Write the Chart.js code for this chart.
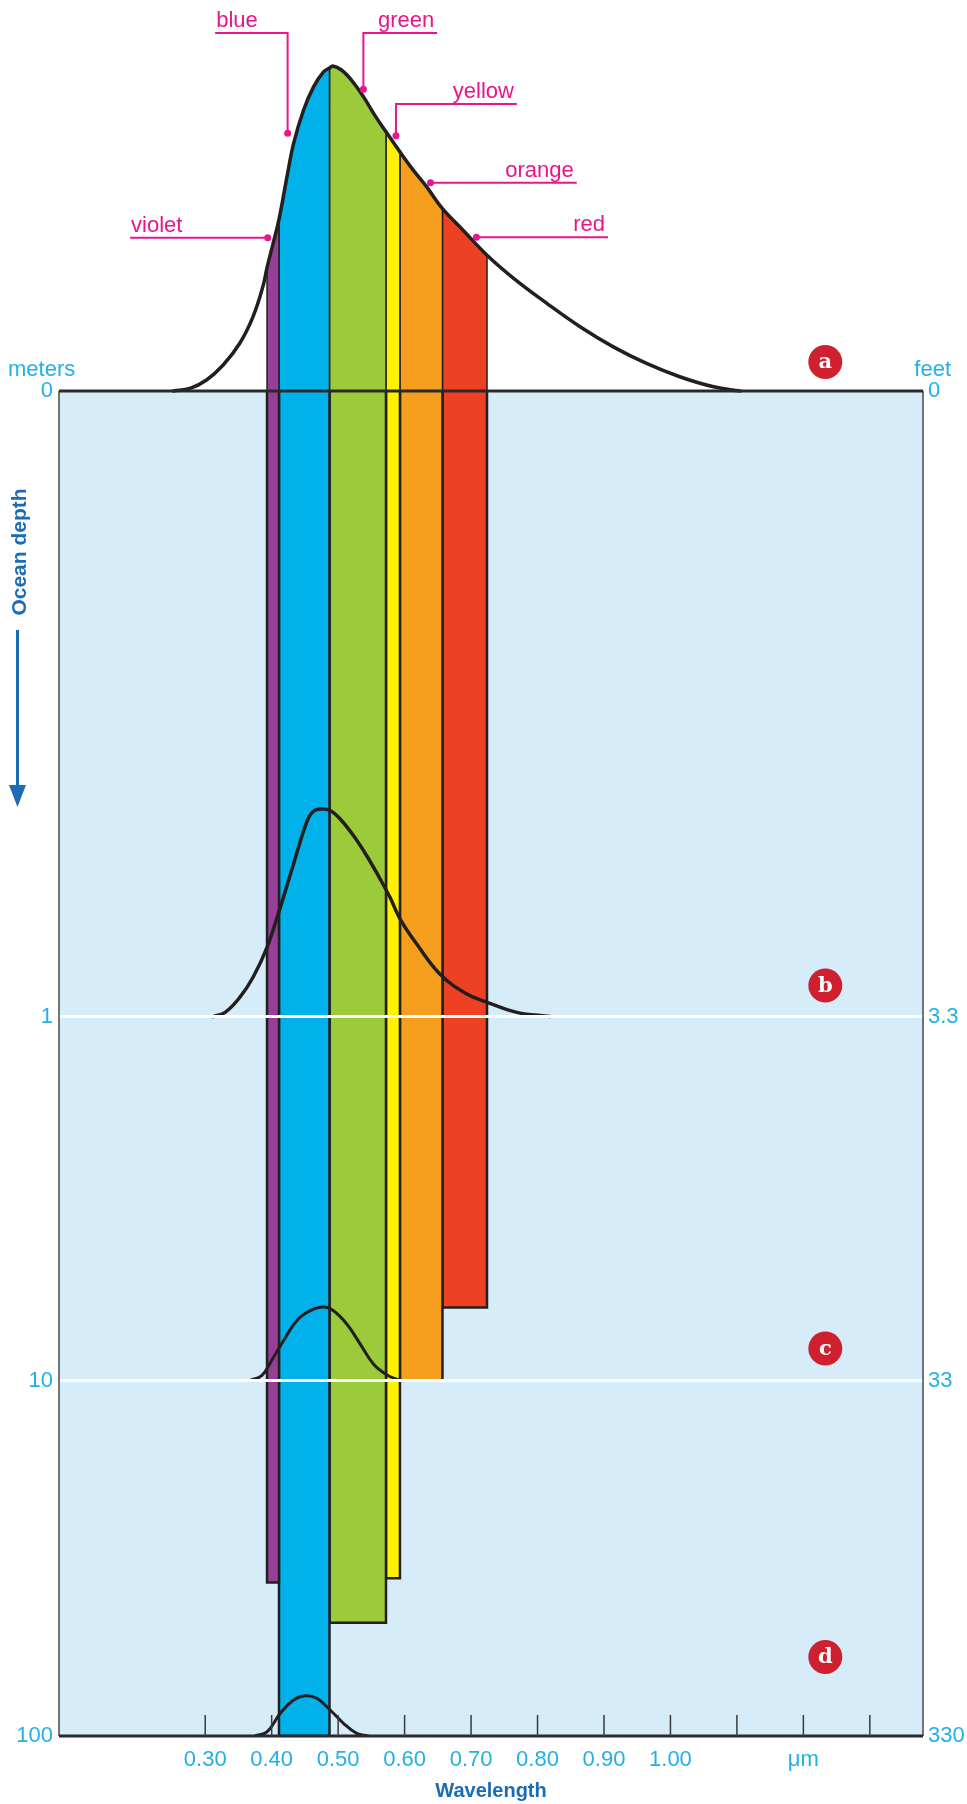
<!DOCTYPE html>
<html lang="en">

<head>
    <meta charset="UTF-8">
    <title>Light in the ocean</title>
    <style>
        html, body { margin: 0; padding: 0; background: #fff; }
        canvas { display: block; }
    </style>
</head>

<body>
    <canvas id="grafico" width="967" height="1804"></canvas>

    <script src="https://cdn.jsdelivr.net/npm/chart.js@4"></script>
    <script>
        // colour bands: edges in µm, depth (m) where each colour runs out
        const bandNames = ['violet', 'blue', 'green', 'yellow', 'orange', 'red']
        const bandEdges = [0.393, 0.411, 0.487, 0.572, 0.593, 0.657, 0.724]
        const bandDepths = [37, 100, 48, 36, 10, 6.3]

        // sunlight spectrum at the surface (a), peak = 100
        const waveA = [0.252, 0.277, 0.302, 0.327, 0.352, 0.372, 0.387, 0.393, 0.402, 0.411, 0.423, 0.433, 0.448, 0.463, 0.478, 0.487, 0.492, 0.505, 0.520, 0.538, 0.555, 0.572, 0.593, 0.613, 0.633, 0.657, 0.688, 0.724, 0.764, 0.814, 0.864, 0.914, 0.964, 1.014, 1.065, 1.105]
        const lightA = [0, 0.8, 3.4, 8.0, 14.7, 22.9, 32.3, 38.0, 45.3, 52.8, 65.9, 76.2, 86.5, 93.6, 98.2, 99.4, 100, 98.8, 95.7, 90.6, 84.9, 79.8, 73.6, 68.0, 62.9, 56.1, 49.5, 41.8, 34.7, 27.0, 19.8, 13.6, 8.5, 4.4, 1.3, 0]

        // spectrum at 1 m (b)
        const waveB = [0.312, 0.330, 0.352, 0.372, 0.393, 0.413, 0.433, 0.453, 0.463, 0.475, 0.488, 0.503, 0.523, 0.543, 0.563, 0.578, 0.593, 0.618, 0.653, 0.693, 0.724, 0.769, 0.819]
        const lightB = [0, 1.3, 5.9, 12.1, 21.3, 33.6, 47.0, 60.0, 63.2, 63.9, 63.4, 60.8, 55.7, 49.5, 42.4, 36.7, 30.1, 22.4, 13.1, 7.0, 4.4, 1.3, 0]

        // spectrum at 10 m (c)
        const waveC = [0.367, 0.385, 0.400, 0.418, 0.438, 0.458, 0.478, 0.493, 0.513, 0.533, 0.553, 0.573, 0.593]
        const lightC = [0, 1.5, 6.2, 12.3, 18.5, 21.5, 22.6, 21.5, 17.4, 11.3, 5.1, 1.8, 0]

        // spectrum at 100 m (d)
        const waveD = [0.375, 0.393, 0.413, 0.433, 0.450, 0.468, 0.488, 0.508, 0.528, 0.545]
        const lightD = [0, 1.3, 7.0, 11.1, 12.4, 11.6, 8.0, 3.9, 0.8, 0]

        // axes
        const depthTicks = [0, 1, 10, 100]
        const meterLabels = ['0', '1', '10', '100']
        const feetLabels = ['0', '3.3', '33', '330']
        const waveTicks = [0.3, 0.4, 0.5, 0.6, 0.7, 0.8, 0.9, 1.0, 1.1, 1.2, 1.3]
        const waveLabels = ['0.30', '0.40', '0.50', '0.60', '0.70', '0.80', '0.90', '1.00', '', 'μm', '']

        const curveLetters = ['a', 'b', 'c', 'd']
        const curveDepths = [0, 1, 10, 100]

        // ---- styles / geometry ----
        const bandColors = ['#953f97', '#00b1ea', '#9bca3b', '#fff100', '#f69f1f', '#ee4023']
        const CYAN = '#22b0e6'
        const DARK_BLUE = '#1a6db4'
        const MAGENTA = '#e9158b'
        const INK = '#231f20'
        const SANS = '"Liberation Sans", Arial, sans-serif'

        // the depth axis is linear from 0 to 1 m, then logarithmic; positions are
        // fractions of the water column, SKY is the part of the plot above the surface
        const KNOT_POS = [0, 0.4651, 0.7357, 1]
        const SKY = 0.261
        const UNIT = 0.2416 / 100   // height of one intensity unit, in water-column heights

        function depthPos(d) {
            if (d <= 1) return d * KNOT_POS[1]
            const l = Math.log10(d)
            if (l <= 1) return KNOT_POS[1] + l * (KNOT_POS[2] - KNOT_POS[1])
            return KNOT_POS[2] + (l - 1) * (KNOT_POS[3] - KNOT_POS[2])
        }

        function posDepth(p) {
            if (p <= KNOT_POS[1]) return p / KNOT_POS[1]
            if (p <= KNOT_POS[2]) return Math.pow(10, (p - KNOT_POS[1]) / (KNOT_POS[2] - KNOT_POS[1]))
            return Math.pow(10, 1 + (p - KNOT_POS[2]) / (KNOT_POS[3] - KNOT_POS[2]))
        }

        class DepthScale extends Chart.LinearScale {
            static id = 'depth'
            static defaults = {}

            determineDataLimits() {
                this.min = -SKY
                this.max = 1
            }

            buildTicks() {
                return depthTicks.map(v => ({ value: v }))
            }

            getPixelForValue(value) {
                return super.getPixelForValue(depthPos(value))
            }

            getValueForPixel(pixel) {
                return posDepth(super.getValueForPixel(pixel))
            }
        }
        Chart.register(DepthScale)

        // hidden intensity axis whose zero sits on a given depth
        function lightAxis(depth) {
            const p0 = depthPos(depth)
            return { type: 'linear', position: 'left', display: false, min: -(1 - p0) / UNIT, max: (p0 + SKY) / UNIT }
        }

        function pairs(xs, ys) {
            return xs.map((x, i) => ({ x: x, y: ys[i] }))
        }

        function skyBand(i) {
            const lo = bandEdges[i], hi = bandEdges[i + 1]
            const pts = [{ x: lo, y: 0 }]
            waveA.forEach((w, k) => {
                if (w >= lo - 1e-6 && w <= hi + 1e-6) pts.push({ x: w, y: lightA[k] })
            })
            pts.push({ x: hi, y: 0 })
            return pts
        }

        function waterBand(i) {
            const lo = bandEdges[i], hi = bandEdges[i + 1], d = bandDepths[i]
            return [{ x: lo, y: 0 }, { x: lo, y: d }, { x: hi, y: d }, { x: hi, y: 0 }]
        }

        const datasets = []
        bandNames.forEach((name, i) => {
            datasets.push({
                label: name + ' (water)', data: waterBand(i), yAxisID: 'depth',
                backgroundColor: bandColors[i], borderColor: INK, borderWidth: 2.5,
                fill: 'origin', pointRadius: 0, tension: 0, order: 3
            })
            datasets.push({
                label: name + ' (air)', data: skyBand(i), yAxisID: 'ya',
                backgroundColor: bandColors[i], borderColor: INK, borderWidth: 1.5,
                fill: 'origin', pointRadius: 0, tension: 0, order: 2
            })
        })

        const curves = [[waveA, lightA, 'ya', 3.5], [waveB, lightB, 'yb', 3.5], [waveC, lightC, 'yc', 3], [waveD, lightD, 'yd', 3]]
        curves.forEach(([w, v, axis, width], i) => {
            datasets.push({
                label: curveLetters[i], data: pairs(w, v), yAxisID: axis,
                borderColor: INK, borderWidth: width, borderCapStyle: 'round', borderJoinStyle: 'round',
                fill: false, pointRadius: 0, tension: 0.4, order: 0
            })
        })

        // magenta colour names with leader lines, in (µm, surface intensity) units
        const callouts = [
            { text: 'violet', align: 'left', path: [[0.394, 47.2], [0.187, 47.2]] },
            { text: 'blue', align: 'left', path: [[0.424, 79.3], [0.424, 110.2], [0.315, 110.2]] },
            { text: 'green', align: 'right', path: [[0.538, 92.9], [0.538, 110.2], [0.649, 110.2]] },
            { text: 'yellow', align: 'right', path: [[0.587, 78.6], [0.587, 88.3], [0.769, 88.3]] },
            { text: 'orange', align: 'right', path: [[0.639, 64.1], [0.859, 64.1]] },
            { text: 'red', align: 'right', path: [[0.708, 47.3], [0.906, 47.3]] }
        ]
        const badgeWave = 1.233
        const badgeLift = [29, 31, 32, 79]

        const moldura = {
            id: 'moldura',
            beforeDraw(chart) {
                const { ctx, chartArea: a, scales: { depth } } = chart
                const top = depth.getPixelForValue(0), bottom = depth.getPixelForValue(100)
                ctx.save()
                ctx.fillStyle = '#d6ecf9'
                ctx.fillRect(a.left, top, a.right - a.left, bottom - top)
                ctx.restore()
            },
            afterDraw(chart) {
                const { ctx, chartArea: a, scales: { x, depth } } = chart
                const top = depth.getPixelForValue(0), bottom = depth.getPixelForValue(100)
                ctx.save()
                ctx.strokeStyle = '#4a4a4a'
                ctx.lineWidth = 1.5
                ctx.beginPath()
                ctx.moveTo(a.left, top); ctx.lineTo(a.left, bottom)
                ctx.moveTo(a.right, top); ctx.lineTo(a.right, bottom)
                ctx.stroke()
                ctx.strokeStyle = '#2a2a2a'
                ctx.lineWidth = 3
                ctx.beginPath()
                ctx.moveTo(a.left, top); ctx.lineTo(a.right, top)
                ctx.moveTo(a.left, bottom); ctx.lineTo(a.right, bottom)
                ctx.stroke()
                // tick marks point into the plot
                ctx.lineWidth = 1.5
                ctx.strokeStyle = '#3a3a3a'
                x.ticks.forEach(t => {
                    const px = x.getPixelForValue(t.value)
                    ctx.beginPath(); ctx.moveTo(px, bottom); ctx.lineTo(px, bottom - 21); ctx.stroke()
                })
                ctx.restore()
            }
        }

        const notas = {
            id: 'notas',
            afterDraw(chart) {
                const { ctx, chartArea: a, scales: { x, ya, depth } } = chart
                ctx.save()

                ctx.strokeStyle = MAGENTA
                ctx.fillStyle = MAGENTA
                ctx.lineWidth = 2
                ctx.font = '22px ' + SANS
                ctx.textBaseline = 'alphabetic'
                callouts.forEach(c => {
                    const pts = c.path.map(([w, v]) => [x.getPixelForValue(w), ya.getPixelForValue(v)])
                    ctx.beginPath()
                    pts.forEach(([px, py], k) => k ? ctx.lineTo(px, py) : ctx.moveTo(px, py))
                    ctx.stroke()
                    ctx.beginPath()
                    ctx.arc(pts[0][0], pts[0][1], 3.5, 0, Math.PI * 2)
                    ctx.fill()
                    const [ex, ey] = pts[pts.length - 1]
                    ctx.textAlign = c.align
                    ctx.fillText(c.text, c.align === 'left' ? ex + 1 : ex - 3, ey - 6)
                })

                // a b c d markers
                curveLetters.forEach((letter, k) => {
                    const cx = x.getPixelForValue(badgeWave)
                    const cy = depth.getPixelForValue(curveDepths[k]) - badgeLift[k]
                    ctx.fillStyle = '#cf202f'
                    ctx.beginPath()
                    ctx.arc(cx, cy, 17, 0, Math.PI * 2)
                    ctx.fill()
                    ctx.fillStyle = '#fff'
                    ctx.font = 'bold 21px "DejaVu Serif", serif'
                    ctx.textAlign = 'center'
                    ctx.textBaseline = 'middle'
                    ctx.fillText(letter, cx, cy + 1)
                })

                // unit captions above the depth axes
                ctx.fillStyle = CYAN
                ctx.font = '22px ' + SANS
                ctx.textBaseline = 'alphabetic'
                ctx.textAlign = 'left'
                ctx.fillText('meters', 8, 376)
                ctx.textAlign = 'right'
                ctx.fillText('feet', a.right + 28, 376)

                // "Ocean depth" with its arrow
                ctx.fillStyle = DARK_BLUE
                ctx.save()
                ctx.translate(25.5, 552)
                ctx.rotate(-Math.PI / 2)
                ctx.font = 'bold 21px ' + SANS
                ctx.textAlign = 'center'
                ctx.fillText('Ocean depth', 0, 0)
                ctx.restore()
                ctx.strokeStyle = DARK_BLUE
                ctx.lineWidth = 3
                ctx.beginPath(); ctx.moveTo(17.5, 630); ctx.lineTo(17.5, 788); ctx.stroke()
                ctx.beginPath()
                ctx.moveTo(9, 785); ctx.lineTo(26, 785); ctx.lineTo(17.5, 807); ctx.closePath()
                ctx.fill()

                ctx.restore()
            }
        }

        const grafico = new Chart(document.getElementById('grafico'), {
            type: 'line',
            data: { datasets: datasets },
            options: {
                responsive: false,
                animation: false,
                devicePixelRatio: 1,
                events: [],
                layout: { padding: { top: 40, left: 0, right: 0, bottom: 0 } },
                plugins: { legend: { display: false }, tooltip: { enabled: false } },
                scales: {
                    x: {
                        type: 'linear', position: 'bottom', min: 0.08, max: 1.38,
                        afterBuildTicks: s => { s.ticks = waveTicks.map(v => ({ value: v })) },
                        afterFit: s => { s.height = 68 },
                        grid: { display: false, drawTicks: false },
                        border: { display: false },
                        ticks: {
                            callback: (v, i) => waveLabels[i], autoSkip: false, maxRotation: 0,
                            color: CYAN, padding: 11, font: { family: SANS, size: 22 }
                        },
                        title: {
                            display: true, text: 'Wavelength', color: DARK_BLUE,
                            font: { family: SANS, size: 20, weight: 'bold' }, padding: { top: 0, bottom: 1 }
                        }
                    },
                    depth: {
                        type: 'depth', position: 'left', reverse: true,
                        afterFit: s => { s.width = 59 },
                        border: { display: false },
                        grid: {
                            z: 1, lineWidth: 3, drawTicks: false,
                            color: c => (c.tick && (c.tick.value === 1 || c.tick.value === 10)) ? '#ffffff' : 'rgba(0,0,0,0)'
                        },
                        ticks: { callback: (v, i) => meterLabels[i], color: CYAN, padding: 6, font: { family: SANS, size: 22 } }
                    },
                    feet: {
                        type: 'depth', position: 'right', reverse: true,
                        afterFit: s => { s.width = 44 },
                        border: { display: false },
                        grid: { display: false, drawTicks: false },
                        ticks: { callback: (v, i) => feetLabels[i], color: CYAN, padding: 5, font: { family: SANS, size: 22 } }
                    },
                    ya: lightAxis(curveDepths[0]),
                    yb: lightAxis(curveDepths[1]),
                    yc: lightAxis(curveDepths[2]),
                    yd: lightAxis(curveDepths[3])
                }
            },
            plugins: [moldura, notas]
        })
    </script>
</body>

</html>
